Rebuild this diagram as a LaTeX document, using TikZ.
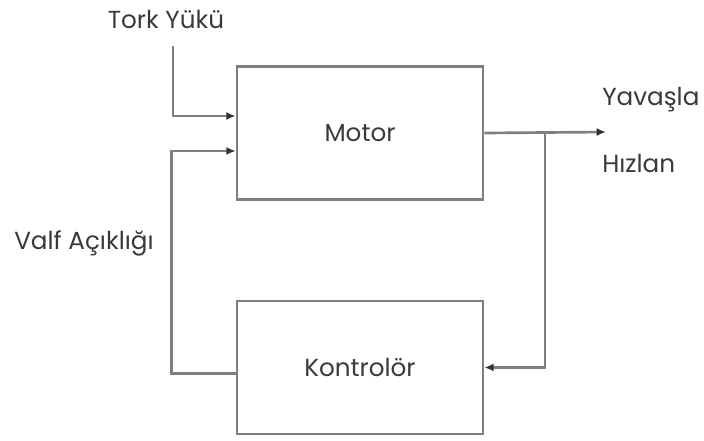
\documentclass[tikz,border=0pt]{standalone}
\usepackage{fontspec}
\setmainfont{Poppins}
\usetikzlibrary{arrows.meta}
\definecolor{linegray}{HTML}{7F7F7F}
\definecolor{txtgray}{HTML}{3A3A3A}
\begin{document}
\begin{tikzpicture}[x=0.75pt,y=-0.75pt,
  blockbox/.style={draw=linegray,line width=2pt,minimum width=246*0.75pt,minimum height=133*0.75pt,inner sep=0pt,font=\fontsize{18.5}{22}\selectfont,text=txtgray},
  lbl/.style={font=\fontsize{18.5}{22}\selectfont,text=txtgray,inner sep=0pt},
  conn/.style={draw=linegray,line width=2pt},
  arr/.style={conn,-{Latex[length=7pt,width=6pt,color=black!80]}}]
\useasboundingbox (0,0) rectangle (704,440);
\node[blockbox] (motor) at (360,133) {Motor};
\node[blockbox] (kontrol) at (360,367.5) {Kontrolör};
\node[lbl] (tork) at (166,19) {Tork Yükü};
\node[lbl,anchor=west] (yavas) at (602,100) {Yavaşla};
\node[lbl,anchor=west] (hizlan) at (602,163) {Hızlan};
\node[lbl,anchor=west] (valf) at (14,243) {Valf Açıklığı};
\coordinate (torktop) at (173,46);
\coordinate (outend) at (606,132);
\coordinate (branch) at (545,132);
\draw[arr] (torktop) |- ([yshift=17*0.75pt]motor.west);
\draw[arr] ([yshift=-6*0.75pt]kontrol.west) -- ++(-64,0) |- ([yshift=-18*0.75pt]motor.west);
\draw[arr] (motor.east) -- (outend);
\draw[arr] (branch) |- (kontrol.east);
\end{tikzpicture}
\end{document}
